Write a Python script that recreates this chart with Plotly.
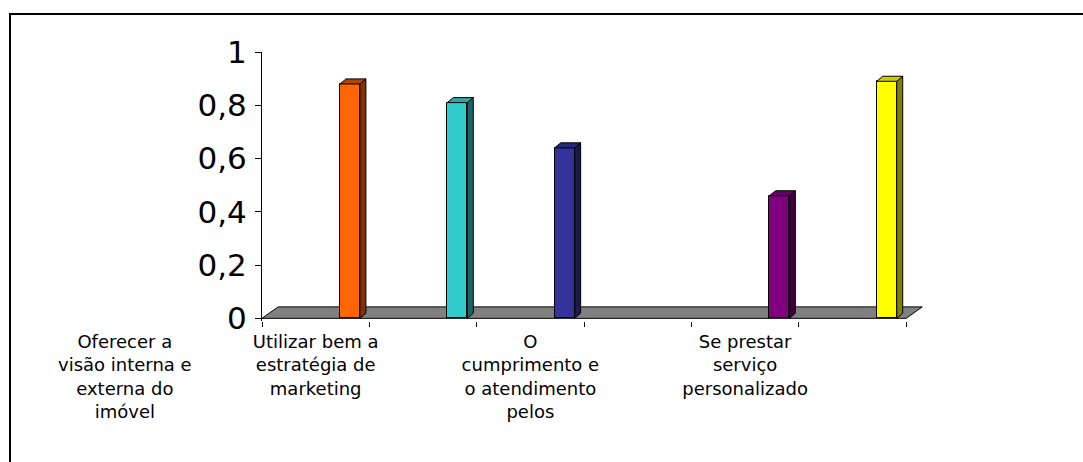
import plotly.graph_objects as go

# ---- data ----
categories = ["Utilizar bem a<br>estratégia de<br>marketing", "",
              "O<br>cumprimento e<br>o atendimento<br>pelos", "",
              "Se prestar<br>serviço<br>personalizado", ""]
values = [0.88, 0.81, 0.64, None, 0.46, 0.89]
extra_label = "Oferecer a<br>visão interna e<br>externa do<br>imóvel"
y_ticks = [0, 0.2, 0.4, 0.6, 0.8, 1]
y_tick_text = ["0", "0,2", "0,4", "0,6", "0,8", "1"]

front_colors = ["#FF6600", "#33CCCC", "#333399", "#800080", "#800080", "#FFFF00"]
side_colors = ["#803300", "#1A6666", "#1A1A4D", "#400040", "#400040", "#808000"]
top_colors = ["#B34700", "#2AA6A6", "#28287A", "#660066", "#660066", "#CCCC00"]

W, H = 1083, 462
L, R, T, B = 262, 150, 52, 141
n = len(categories)
x_range = [-0.5, n - 0.25]
y_range = [-0.01, 1.0]
pw, ph = W - L - R, H - T - B

def px_x(p):
    return (p - L) / pw

def px_y(p):
    return (H - B - p) / ph

bar_offset, bar_width = 0.226, 0.186
dx, dy = 0.056, 0.019

xs = list(range(n))
fig = go.Figure()
fig.add_trace(go.Bar(
    x=xs, y=values, offset=bar_offset, width=bar_width,
    marker=dict(color=front_colors, line=dict(color="black", width=1)),
    showlegend=False, hoverinfo="skip"))

for i, v in enumerate(values):
    if v is None:
        continue
    xl = i + bar_offset
    xr = xl + bar_width
    fig.add_trace(go.Scatter(
        x=[xr, xr + dx, xr + dx, xr, xr], y=[0, dy, v + dy, v, 0],
        fill="toself", fillcolor=side_colors[i], mode="lines",
        line=dict(color="black", width=1), showlegend=False, hoverinfo="skip"))
    fig.add_trace(go.Scatter(
        x=[xl, xl + dx, xr + dx, xr, xl], y=[v, v + dy, v + dy, v, v],
        fill="toself", fillcolor=top_colors[i], mode="lines",
        line=dict(color="black", width=1), showlegend=False, hoverinfo="skip"))

# floor (beneath bars)
fx0, fx1 = -0.5, n - 0.5
fdx, fdy = 0.15, 0.043
floor_path = (f"M {fx0} 0 L {fx0 + fdx} {fdy} L {fx1 + fdx} {fdy} "
              f"L {fx1} 0 Z")
fig.add_shape(type="path", path=floor_path, xref="x", yref="y",
              fillcolor="#808080", line=dict(color="black", width=1),
              layer="below")

# frame
fig.add_shape(type="rect", xref="paper", yref="paper",
              x0=px_x(10), x1=px_x(W + 20), y0=px_y(H + 20), y1=px_y(14),
              line=dict(color="black", width=2), fillcolor="rgba(0,0,0,0)")

fig.add_annotation(text=extra_label, xref="paper", yref="paper",
                   x=px_x(125), y=px_y(329), xanchor="center", yanchor="top",
                   showarrow=False, align="center",
                   font=dict(family="DejaVu Sans", size=18, color="black"))

label_vals = [i for i, c in enumerate(categories) if c]
label_text = [c for c in categories if c]

fig.update_layout(
    width=W, height=H, margin=dict(l=L, r=R, t=T, b=B),
    paper_bgcolor="white", plot_bgcolor="white",
    bargap=0,
    xaxis=dict(range=x_range, tickvals=label_vals, ticktext=label_text,
               ticks="", showgrid=False, zeroline=False, showline=False,
               ticklabelstandoff=8,
               tickfont=dict(family="DejaVu Sans", size=18, color="black"),
               minor=dict(tickvals=[k - 0.5 for k in range(n + 1)],
                          ticks="outside", ticklen=5, tickcolor="black",
                          showgrid=False)),
    yaxis=dict(range=y_range, tickvals=y_ticks, ticktext=y_tick_text,
               ticks="outside", ticklen=6, tickcolor="black",
               showline=True, linecolor="black", linewidth=1,
               showgrid=False, zeroline=False, ticklabelstandoff=2,
               tickfont=dict(family="DejaVu Sans", size=31, color="black")),
)

fig.write_html("out.html")
